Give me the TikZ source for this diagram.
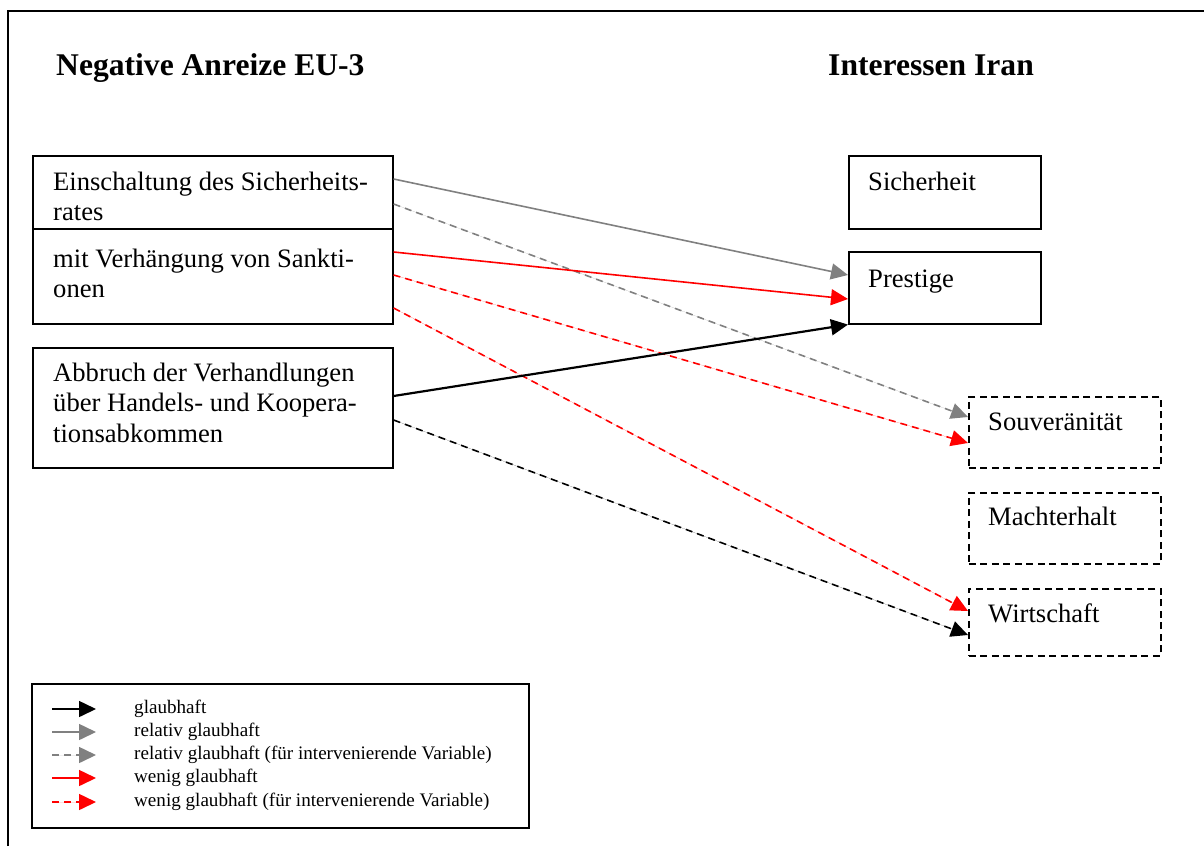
\documentclass[tikz,border=0pt]{standalone}
\usepackage{fontspec}
\setmainfont{Liberation Serif}
\usetikzlibrary{arrows.meta}
\definecolor{midgray}{RGB}{128,128,128}
\tikzset{
  box/.style={draw=black, line width=1.6pt, inner sep=0pt, anchor=north west},
  dbox/.style={box, dash pattern=on 7pt off 4.5pt},
  boxtext/.style={anchor=base west, inner sep=0pt, align=left,
    font=\fontsize{26.6}{30.8}\selectfont},
  heading/.style={anchor=base west, inner sep=0pt,
    font=\fontsize{31.6}{36}\selectfont\bfseries},
  legtext/.style={anchor=base west, inner sep=0pt,
    font=\fontsize{19.1}{23}\selectfont},
  tip/.style={-{Triangle[length=17pt,width=16pt]}},
  dsh/.style={dash pattern=on 7pt off 5pt},
  solidgray/.style={tip, draw=midgray, fill=midgray, line width=1.6pt},
  dashgray/.style={tip, draw=midgray, fill=midgray, line width=1.6pt, dsh},
  solidred/.style={tip, draw=red, fill=red, line width=1.6pt},
  dashred/.style={tip, draw=red, fill=red, line width=1.6pt, dsh},
  solidblack/.style={tip, draw=black, fill=black, line width=2.2pt},
  dashblack/.style={tip, draw=black, fill=black, line width=1.6pt, dsh},
}
\begin{document}
\begin{tikzpicture}[x=1pt, y=-1pt]
\useasboundingbox (0,0) rectangle (1204,846);
% page frame
\draw[line width=1.8pt] (8,846) -- (8,11) -- (1204,11);

% headings
\node[heading] (hleft) at (56,75) {Negative Anreize EU-3};
\node[heading] (hright) at (828,75) {Interessen Iran};

% incentives (text nodes are placed by the baseline of their last line)
\node[box, minimum width=360pt, minimum height=73pt] (ein) at (32,155) {};
\node[box, minimum width=360pt, minimum height=95pt] (sank) at (32,228) {};
\node[box, minimum width=360pt, minimum height=120pt] (abbr) at (32,347) {};
\node[boxtext] (eint) at (53,220.8) {Einschaltung des Sicherheits-\\rates};
\node[boxtext] (sankt) at (53,297.8) {mit Verhängung von Sankti-\\onen};
\node[boxtext] (abbrt) at (53,442.6) {Abbruch der Verhandlungen\\über Handels- und Koopera-\\tionsabkommen};

% interests
\node[box, minimum width=192pt, minimum height=73pt] (sich) at (848,155) {};
\node[box, minimum width=192pt, minimum height=72pt] (prest) at (848,251) {};
\node[dbox, minimum width=192pt, minimum height=71pt] (souv) at (968,396) {};
\node[dbox, minimum width=192pt, minimum height=71pt] (macht) at (968,492) {};
\node[dbox, minimum width=192pt, minimum height=67pt] (wirt) at (968,588) {};
\node[boxtext] (sicht) at (868,190) {Sicherheit};
\node[boxtext] (prestt) at (868,287) {Prestige};
\node[boxtext] (souvt) at (988,430) {Souveränität};
\node[boxtext] (machtt) at (988,525) {Machterhalt};
\node[boxtext] (wirtt) at (988,622) {Wirtschaft};

% connectors
\draw[solidgray] ([yshift=-24pt]ein.north east) -- ([yshift=-24pt]prest.north west);
\draw[dashgray] ([yshift=-49pt]ein.north east) -- ([yshift=-21pt]souv.north west);
\draw[solidred] ([yshift=-24pt]sank.north east) -- ([yshift=-48pt]prest.north west);
\draw[dashred] ([yshift=-47pt]sank.north east) -- ([yshift=-47pt]souv.north west);
\draw[dashred] ([yshift=-80pt]sank.north east) -- ([yshift=-23pt]wirt.north west);
\draw[solidblack] ([yshift=-49pt]abbr.north east) -- (prest.south west);
\draw[dashblack] ([yshift=-73pt]abbr.north east) -- ([yshift=-47pt]wirt.north west);

% legend
\node[box, line width=1.6pt, minimum width=497pt, minimum height=144pt] (leg) at (31,683) {};
\foreach \y/\sty/\lab [count=\i] in {
  709/solidblack/{glaubhaft},
  732/solidgray/{relativ glaubhaft},
  755/dashgray/{relativ glaubhaft (für intervenierende Variable)},
  778/solidred/{wenig glaubhaft},
  802/dashred/{wenig glaubhaft (für intervenierende Variable)}} {
  \coordinate (ls\i) at (52,\y);
  \coordinate (le\i) at (96,\y);
  \draw[\sty, line width=1.6pt] (ls\i) -- (le\i);
  \node[legtext] (lt\i) at (134,\y+4.5) {\lab};
}
\end{tikzpicture}
\end{document}
